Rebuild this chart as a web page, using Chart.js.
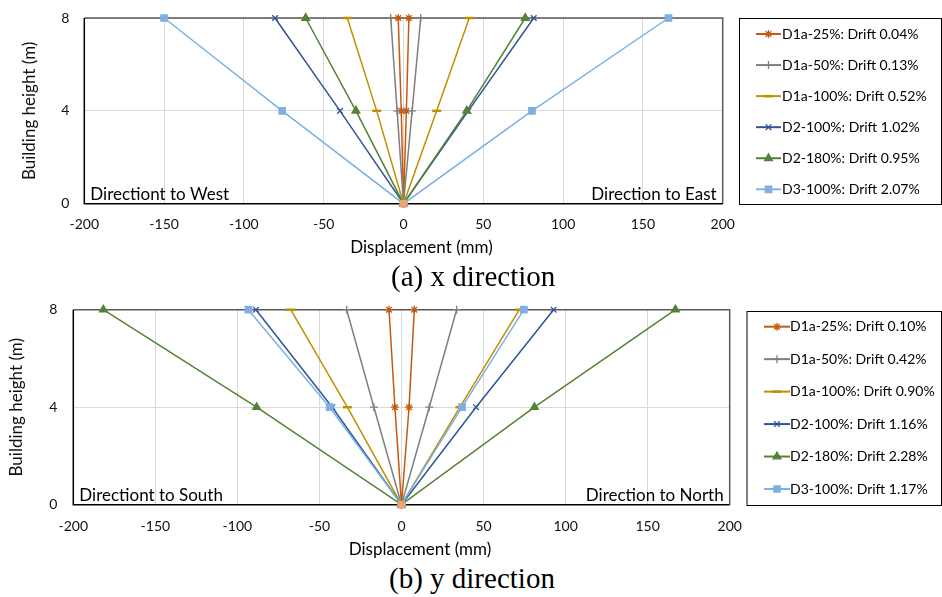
<!DOCTYPE html>
<html>
<head>
<meta charset="utf-8">
<script src="https://cdn.jsdelivr.net/npm/chart.js@4.4.1/dist/chart.umd.min.js"></script>
<style>
  body { margin: 0; background: #fff; }
  #page { position: relative; width: 942px; height: 597px; overflow: hidden; background: #fff; }
  .box { position: absolute; left: 0; width: 942px; }
  .cap { position: absolute; font-family: "Liberation Serif", serif; font-size: 29px; line-height: 29px; color: #000; white-space: nowrap; }
</style>
</head>
<body>
<div id="page">
  <div class="box" style="top:0;height:262px"><canvas id="chartX"></canvas></div>
  <div class="cap" style="top:262px;left:391px">(a) x direction</div>
  <div class="box" style="top:290px;height:270px"><canvas id="chartY"></canvas></div>
  <div class="cap" style="top:564px;left:389px">(b) y direction</div>
</div>
<script>
// heights of the measured floors (m)
const heights = [0, 4, 8];
const xTicks = [-200, -150, -100, -50, 0, 50, 100, 150, 200];

const labelsX = ['D1a-25%: Drift 0.04%', 'D1a-50%: Drift 0.13%', 'D1a-100%: Drift 0.52%',
                 'D2-100%: Drift 1.02%', 'D2-180%: Drift 0.95%', 'D3-100%: Drift 2.07%'];
const labelsY = ['D1a-25%: Drift 0.10%', 'D1a-50%: Drift 0.42%', 'D1a-100%: Drift 0.90%',
                 'D2-100%: Drift 1.16%', 'D2-180%: Drift 2.28%', 'D3-100%: Drift 1.17%'];

// displacement (mm) at 0, 4, 8 m
const westX  = [[0, -1.4, -3.3], [0, -4.0, -8.0], [0, -16.8, -35.2], [0, -39.8, -80.5], [0, -29.8, -61.3], [0, -76.0, -150]];
const eastX  = [[0, 1.8, 3.4],   [0, 5.4, 10.8],  [0, 20.8, 41.2],   [0, 40.6, 81.6],   [0, 39.6, 76.3],   [0, 80.5, 166]];
const southY = [[0, -4.0, -7.6], [0, -16.8, -33.4], [0, -33.0, -67.5], [0, -42.2, -88.7], [0, -88.3, -181.7], [0, -43.8, -93.3]];
const northY = [[0, 4.6, 7.8],   [0, 16.9, 33.6],   [0, 35.6, 71.8],   [0, 45.4, 92.7],   [0, 81.0, 166.9],  [0, 36.9, 74.6]];

const colors = ['#C55A11', '#7F7F7F', '#BF9000', '#2F5597', '#548235', '#7EB0E2'];
const markers = ['star', 'cross', 'line', 'crossRot', 'triangle', 'rect'];
const markerSize = [4, 4, 4.5, 4, 4.5, 4.5];

const FONT = 'Lato';

function buildDatasets(labels, neg, pos) {
  const sets = labels.map(function (lab, i) {
    const pts = [];
    for (let k = heights.length - 1; k >= 0; k--) pts.push({ x: neg[i][k], y: heights[k] });
    for (let k = 1; k < heights.length; k++) pts.push({ x: pos[i][k], y: heights[k] });
    return {
      label: lab,
      data: pts,
      showLine: true,
      clip: false,
      borderColor: colors[i],
      backgroundColor: colors[i],
      borderWidth: 1.5,
      pointStyle: markers[i],
      pointRadius: markerSize[i],
      pointBorderWidth: markers[i] === 'line' ? 2.5 : 1.3,
      pointBorderColor: colors[i],
      pointBackgroundColor: colors[i],
      order: 10 - i
    };
  });
  // base point
  sets.push({ label: 'base', data: [{ x: 0, y: 0 }], clip: false, pointRadius: 4, pointStyle: 'circle',
    backgroundColor: '#F4A26A', borderColor: '#F4A26A', pointBorderWidth: 0, order: 0, inLegend: false });
  return sets;
}

const framePlugin = {
  id: 'frame',
  beforeDatasetsDraw(chart) {
    const a = chart.chartArea, ctx = chart.ctx;
    ctx.save();
    ctx.lineWidth = 1.5;
    ctx.strokeStyle = '#595959';
    ctx.beginPath();
    ctx.moveTo(a.left, a.top); ctx.lineTo(a.right, a.top); ctx.lineTo(a.right, a.bottom);
    ctx.stroke();
    ctx.strokeStyle = '#000';
    ctx.beginPath();
    ctx.moveTo(a.left, a.top); ctx.lineTo(a.left, a.bottom); ctx.lineTo(a.right, a.bottom);
    ctx.stroke();
    ctx.restore();
  }
};

const boxLegendPlugin = {
  id: 'boxLegend',
  afterDraw(chart, args, o) {
    const ctx = chart.ctx;
    ctx.save();
    ctx.strokeStyle = '#000';
    ctx.lineWidth = 1;
    ctx.strokeRect(o.box[0] + 0.5, o.box[1] + 0.5, o.box[2] - o.box[0], o.box[3] - o.box[1]);
    ctx.font = '14px ' + FONT;
    ctx.textBaseline = 'middle';
    ctx.fillStyle = '#000';
    let n = 0;
    chart.data.datasets.forEach(function (ds) {
      if (ds.inLegend === false) return;
      const y = o.y0 + n * o.step;
      ctx.strokeStyle = ds.borderColor;
      ctx.lineWidth = 2;
      ctx.beginPath();
      ctx.moveTo(o.lineX0, y); ctx.lineTo(o.lineX1, y);
      ctx.stroke();
      ctx.fillStyle = ds.backgroundColor;
      ctx.strokeStyle = ds.borderColor;
      ctx.lineWidth = ds.pointBorderWidth;
      Chart.helpers.drawPoint(ctx, { pointStyle: ds.pointStyle, radius: ds.pointRadius, rotation: 0, borderWidth: ds.pointBorderWidth },
        (o.lineX0 + o.lineX1) / 2, y);
      ctx.fillStyle = '#000';
      ctx.textAlign = 'left';
      ctx.fillText(ds.label, o.textX, y);
      n++;
    });
    ctx.restore();
  }
};

const notesPlugin = {
  id: 'notes',
  afterDraw(chart, args, o) {
    const a = chart.chartArea, ctx = chart.ctx;
    ctx.save();
    ctx.font = '17px ' + FONT;
    ctx.fillStyle = '#000';
    ctx.textBaseline = 'middle';
    ctx.textAlign = 'left';
    ctx.fillText(o.left, a.left + o.inset, a.bottom - o.dy);
    ctx.textAlign = 'right';
    ctx.fillText(o.right, a.right - o.inset, a.bottom - o.dy);
    ctx.textAlign = 'center';
    ctx.fillText(o.xTitle, (a.left + a.right) / 2 + o.titleDx, o.titleY);
    ctx.restore();
  }
};

function makeChart(id, labels, neg, pos, g) {
  return new Chart(document.getElementById(id), {
    type: 'scatter',
    data: { datasets: buildDatasets(labels, neg, pos) },
    options: {
      responsive: true,
      maintainAspectRatio: false,
      animation: false,
      events: [],
      layout: { padding: { left: 0, top: g.top, right: 942 - g.right, bottom: 0 } },
      scales: {
        x: {
          type: 'linear', min: -200, max: 200,
          afterBuildTicks: function (s) { s.ticks = xTicks.map(function (v) { return { value: v }; }); },
          afterFit: function (s) { s.height = g.height - g.bottom; },
          grid: { color: '#D9D9D9', lineWidth: 1, drawTicks: false },
          border: { display: false },
          ticks: { padding: g.xPad, color: '#111', font: { family: FONT, size: 14 } }
        },
        y: {
          type: 'linear', min: 0, max: 8,
          ticks: { stepSize: 4, padding: g.yPad, color: '#111', font: { family: FONT, size: 14 } },
          afterFit: function (s) { s.width = g.left; s.paddingTop = 0; s.paddingBottom = 0; },
          grid: { color: '#D9D9D9', lineWidth: 1, drawTicks: false },
          border: { display: false },
          title: { display: true, text: 'Building height (m)', color: '#111',
                   font: { family: FONT, size: 17 }, padding: { top: g.yTitlePad, bottom: 0 } }
        }
      },
      plugins: {
        legend: { display: false },
        tooltip: { enabled: false },
        boxLegend: g.legend,
        notes: g.notes
      }
    },
    plugins: [framePlugin, boxLegendPlugin, notesPlugin]
  });
}

makeChart('chartX', labelsX, westX, eastX, {
  left: 84.3, top: 18, right: 722.7, bottom: 203.7, height: 262,
  xPad: 12, yPad: 15, yTitlePad: 19.8,
  legend: { box: [739, 18, 941, 204], y0: 34, step: 31.06, lineX0: 756, lineX1: 781, textX: 782 },
  notes: { left: 'Directiont to West', right: 'Direction to East', inset: 6, dy: 9.5,
           xTitle: 'Displacement (mm)', titleDx: 18, titleY: 248 }
});

makeChart('chartY', labelsY, southY, northY, {
  left: 73.3, top: 19.7, right: 729.7, bottom: 214.7, height: 270,
  xPad: 13, yPad: 16, yTitlePad: 6.5,
  legend: { box: [746.5, 21, 941, 215], y0: 36.7, step: 32.46, lineX0: 764, lineX1: 790, textX: 790 },
  notes: { left: 'Directiont to South', right: 'Direction to North', inset: 6, dy: 9,
           xTitle: 'Displacement (mm)', titleDx: 18.5, titleY: 260 }
});
</script>
</body>
</html>
